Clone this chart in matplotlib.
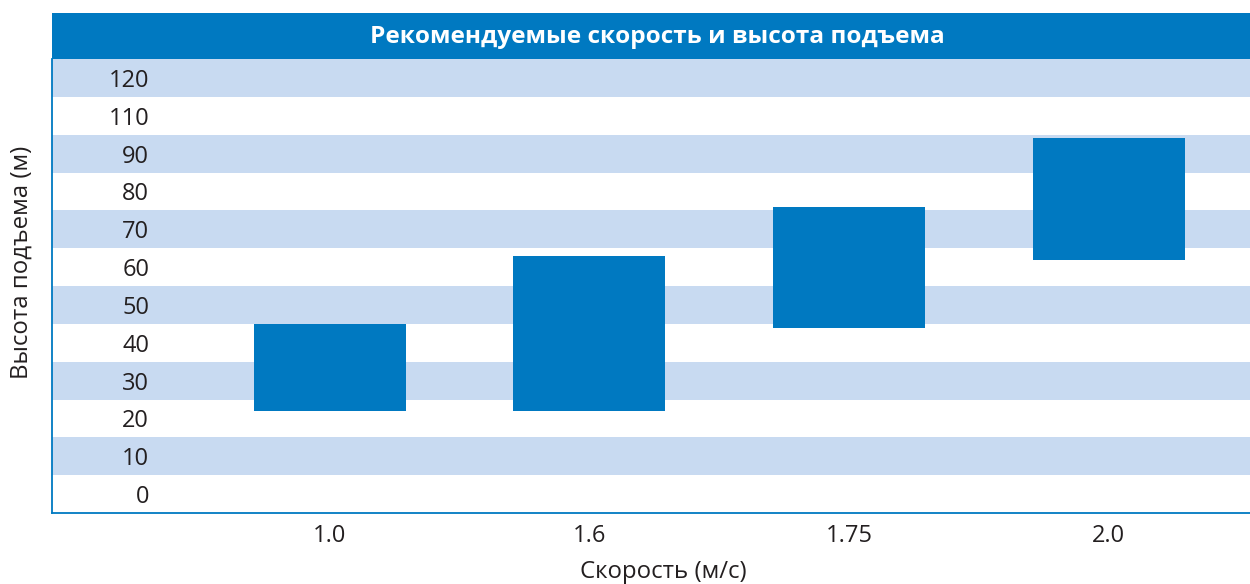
import numpy as np
import matplotlib
matplotlib.use('Agg')
import matplotlib.pyplot as plt
from matplotlib.patches import Rectangle

plt.rcParams['font.family'] = ['Open Sans', 'DejaVu Sans']

# данные
speeds = ['1.0', '1.6', '1.75', '2.0']
h_low = np.array([22, 22, 44, 62])
h_high = np.array([45, 63, 76, 94])
row_pos = np.arange(0, 120, 10)
row_labels = ['0', '10', '20', '30', '40', '50', '60', '70', '80', '90', '110', '120']

title = 'Рекомендуемые скорость и высота подъема'
blue = '#0079C1'
light = '#C8DAF1'
text_col = '#231F20'

fig = plt.figure(figsize=(12.5, 5.84), dpi=100)
ax = fig.add_axes([52/1250, 71/584, 1 - 52/1250, (513 - 59)/584])

# полосы
for i, p in enumerate(row_pos):
    ax.axhspan(p - 5, p + 5, color=light if i % 2 == 1 else 'white', lw=0, zorder=0)

x = np.arange(len(speeds))
ax.bar(x, h_high - h_low, bottom=h_low, width=0.585, color=blue, zorder=2)

ax.set_ylim(-5, 115)
ax.set_xlim(-1.069, 3.544)
ax.set_yticks(row_pos)
ax.set_yticklabels(row_labels)
ax.set_xticks(x)
ax.set_xticklabels(speeds)
# pad в пунктах: 97 px -> ~70 pt
ax.tick_params(axis='y', length=0, pad=-70, labelsize=17, labelcolor=text_col)
ax.tick_params(axis='x', length=0, pad=8, labelsize=17, labelcolor=text_col)
for lab in ax.get_yticklabels():
    lab.set_horizontalalignment('right')

for s in ['top', 'right']:
    ax.spines[s].set_visible(False)
for s in ['left', 'bottom']:
    ax.spines[s].set_color(blue)
    ax.spines[s].set_linewidth(1.3)

# заголовок
fig.patches.append(Rectangle((52/1250, 1 - 59/584), 1, 46/584, transform=fig.transFigure,
                             color=blue, lw=0))
fig.text(657/1250, 1 - 37/584, title, color='white', fontsize=17.6, fontweight='bold',
         ha='center', va='center')

fig.text(22/1250, 1 - 262/584, 'Высота подъема (м)', rotation=90, fontsize=17.3,
         color=text_col, ha='center', va='center')
fig.text(663/1250, 1 - 572/584, 'Скорость (м/с)', fontsize=17.3, color=text_col,
         ha='center', va='center')

fig.savefig('out.png', dpi=100)
